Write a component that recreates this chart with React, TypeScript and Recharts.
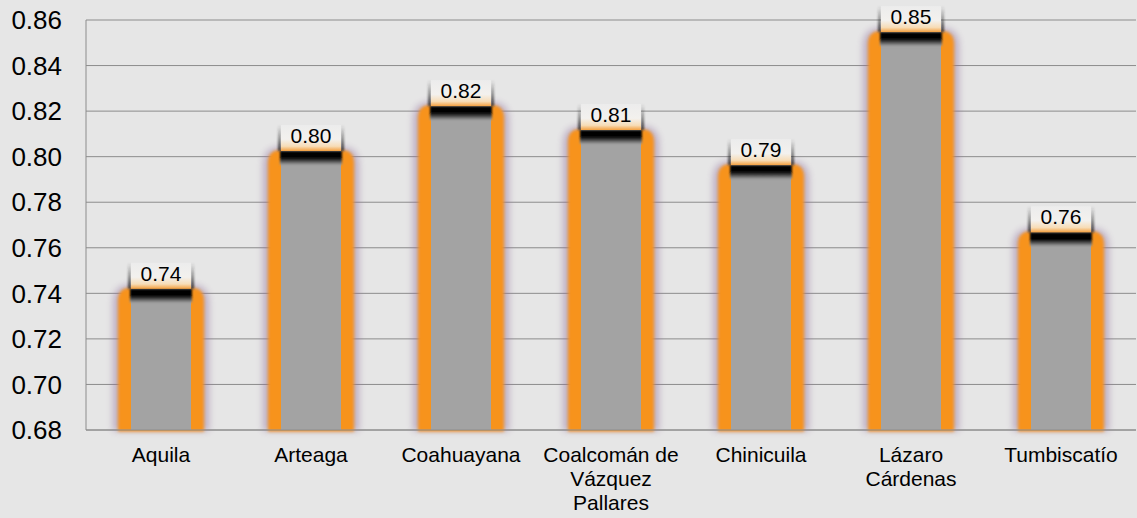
import React from 'react';
import { BarChart, Bar, XAxis, YAxis, CartesianGrid } from 'recharts';

const categories = [
  'Aquila',
  'Arteaga',
  'Coahuayana',
  'Coalcomán de Vázquez Pallares',
  'Chinicuila',
  'Lázaro Cárdenas',
  'Tumbiscatío',
];
const tickLabelLines = [
  ['Aquila'],
  ['Arteaga'],
  ['Coahuayana'],
  ['Coalcomán de', 'Vázquez', 'Pallares'],
  ['Chinicuila'],
  ['Lázaro', 'Cárdenas'],
  ['Tumbiscatío'],
];
const values = [0.742, 0.8025, 0.8222, 0.8117, 0.7963, 0.8547, 0.7668];
const yTicks = [0.68, 0.7, 0.72, 0.74, 0.76, 0.78, 0.8, 0.82, 0.84, 0.86];

const data = categories.map((name, i) => ({ name, value: values[i] }));

const FONT = '"Liberation Sans", Arial, sans-serif';

const fmtTrunc = (v: number) => (Math.floor(v * 100 + 1e-9) / 100).toFixed(2);

function topRounded(x: number, y: number, w: number, h: number, r: number) {
  return `M${x},${y + h} L${x},${y + r} Q${x},${y} ${x + r},${y} L${x + w - r},${y} Q${x + w},${y} ${x + w},${y + r} L${x + w},${y + h} Z`;
}

const GlowBar = (props: any) => {
  const { x, y, width: w, height: h, payload } = props;
  if (w == null || h == null) return null;
  const boxH = 26;
  return (
    <g>
      <path d={topRounded(x - 18, y - 4, w + 36, h + 5, 18)} fill="#8e6a9a" opacity={0.45} filter="url(#gb-big)" />
      <path d={topRounded(x - 13, y - 1, w + 26, h + 2.5, 13)} fill="#f7931e" filter="url(#gb-small)" />
      <rect x={x} y={y} width={w} height={h} fill="#a3a3a3" />
      <rect x={x - 1} y={y} width={w + 2} height={14} fill="url(#gb-stripe)" filter="url(#gb-tiny)" />
      <rect x={x - 3} y={y - boxH} width={3} height={boxH} fill="url(#gb-shadow)" filter="url(#gb-tiny)" />
      <rect x={x + w} y={y - boxH} width={3} height={boxH} fill="url(#gb-shadow)" filter="url(#gb-tiny)" />
      <rect x={x} y={y - boxH} width={w} height={boxH} fill="url(#gb-box)" />
      <text
        x={x + w / 2}
        y={y - 8}
        textAnchor="middle"
        fontSize={21}
        fontFamily={FONT}
        fill="#000"
      >
        {fmtTrunc(payload.value)}
      </text>
    </g>
  );
};

const CatTick = (props: any) => {
  const { x, y, index } = props;
  const lines = tickLabelLines[index] || [];
  return (
    <text x={x} y={y} textAnchor="middle" fontSize={21} fontFamily={FONT} fill="#000">
      {lines.map((ln, i) => (
        <tspan key={i} x={x} dy={i === 0 ? 15 : 24}>
          {ln}
        </tspan>
      ))}
    </text>
  );
};

export default function App() {
  return (
    <div style={{ position: 'absolute', left: 0, top: 0, width: 1137, height: 518, background: '#e6e6e6' }}>
      <svg width={0} height={0} style={{ position: 'absolute' }}>
        <defs>
          <filter id="gb-big" x="-30%" y="-10%" width="160%" height="120%">
            <feGaussianBlur stdDeviation="3.5" />
          </filter>
          <filter id="gb-small" x="-30%" y="-10%" width="160%" height="120%">
            <feGaussianBlur stdDeviation="1.5" />
          </filter>
          <filter id="gb-tiny" x="-100%" y="-30%" width="300%" height="160%">
            <feGaussianBlur stdDeviation="1" />
          </filter>
          <linearGradient id="gb-stripe" x1="0" y1="0" x2="0" y2="1">
            <stop offset="0%" stopColor="#000" />
            <stop offset="50%" stopColor="#000" />
            <stop offset="100%" stopColor="#a3a3a3" />
          </linearGradient>
          <linearGradient id="gb-shadow" x1="0" y1="0" x2="0" y2="1">
            <stop offset="0%" stopColor="#333" stopOpacity={0} />
            <stop offset="100%" stopColor="#222" stopOpacity={0.9} />
          </linearGradient>
          <linearGradient id="gb-box" x1="0" y1="0" x2="0" y2="1">
            <stop offset="0%" stopColor="#ececec" />
            <stop offset="55%" stopColor="#f3f1ee" />
            <stop offset="82%" stopColor="#f7dcb6" />
            <stop offset="100%" stopColor="#f4a040" />
          </linearGradient>
        </defs>
      </svg>
      <BarChart
        width={1137}
        height={518}
        data={data}
        margin={{ top: 20, right: 1, left: 0, bottom: 0 }}
        barCategoryGap={0}
      >
        <CartesianGrid vertical={false} stroke="#8c8c8c" strokeWidth={1} />
        <XAxis
          dataKey="name"
          interval={0}
          height={88}
          tickLine={false}
          axisLine={{ stroke: '#8c8c8c' }}
          tickMargin={11}
          tick={<CatTick />}
        />
        <YAxis
          width={86}
          domain={[0.68, 0.86]}
          ticks={yTicks}
          interval={0}
          tickLine={false}
          axisLine={{ stroke: '#8c8c8c' }}
          tickMargin={18}
          tickFormatter={(v: number) => v.toFixed(2)}
          tick={{ fontSize: 26, fill: '#000', fontFamily: FONT }}
        />
        <Bar dataKey="value" barSize={60} isAnimationActive={false} shape={<GlowBar />} />
      </BarChart>
    </div>
  );
}
